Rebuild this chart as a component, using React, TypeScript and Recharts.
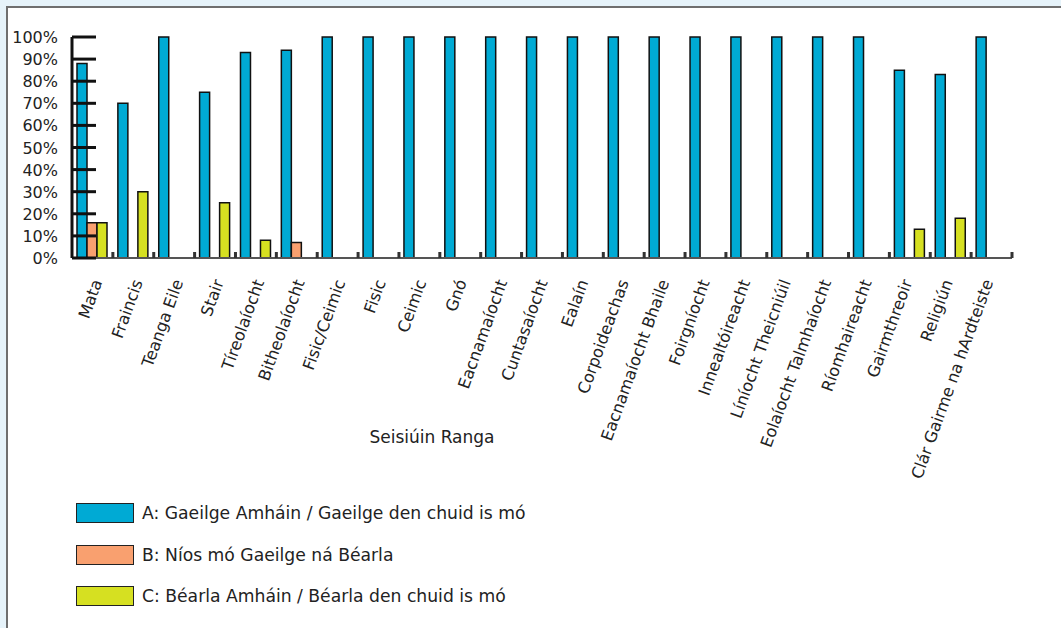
import React from 'react';
import { BarChart, Bar, XAxis, YAxis, Label } from 'recharts';

const categories = [
  'Mata', 'Fraincis', 'Teanga Eile', 'Stair', 'Tíreolaíocht', 'Bitheolaíocht',
  'Fisic/Ceimic', 'Fisic', 'Ceimic', 'Gnó', 'Eacnamaíocht', 'Cuntasaíocht',
  'Ealaín', 'Corpoideachas', 'Eacnamaíocht Bhaile', 'Foirgníocht',
  'Innealtóireacht', 'Líníocht Theicniúil', 'Eolaíocht Talmhaíocht',
  'Ríomhaireacht', 'Gairmthreoir', 'Religiún', 'Clár Gairme na hArdteiste',
];

const seriesA = [88, 70, 100, 75, 93, 94, 100, 100, 100, 100, 100, 100, 100, 100, 100, 100, 100, 100, 100, 100, 85, 83, 100];
const seriesB = [16, 0, 0, 0, 0, 7, 0, 0, 0, 0, 0, 0, 0, 0, 0, 0, 0, 0, 0, 0, 0, 0, 0];
const seriesC = [16, 30, 0, 25, 8, 0, 0, 0, 0, 0, 0, 0, 0, 0, 0, 0, 0, 0, 0, 0, 13, 18, 0];

const seriesNames = [
  'A: Gaeilge Amháin / Gaeilge den chuid is mó',
  'B: Níos mó Gaeilge ná Béarla',
  'C: Béarla Amháin / Béarla den chuid is mó',
];
const seriesColors = ['#00aad4', '#f9a06f', '#d6e021'];

const yTicks = [0, 10, 20, 30, 40, 50, 60, 70, 80, 90, 100];

const data = categories.map((name, i) => ({
  name,
  a: seriesA[i],
  b: seriesB[i],
  c: seriesC[i],
}));

const FONT = '"DejaVu Sans", sans-serif';
const CHART_W = 1061;
const CHART_H = 628;
const MARGIN = { top: 37, right: 49, bottom: 0, left: 0 };
const Y_W = 72;
const BAND = (CHART_W - MARGIN.left - MARGIN.right - Y_W) / categories.length;

const XTick = (props: any) => {
  const { x, y, payload, index } = props;
  const ax = x + 10 - index * 0.37;
  const ay = y + 24;
  const bx = x + BAND / 2;
  return (
    <g>
      <rect x={bx - 1.5} y={y - 6} width={3} height={6} fill="#333" />
      <text
        x={ax}
        y={ay}
        transform={`rotate(-70, ${ax}, ${ay})`}
        textAnchor="end"
        fontSize={16.2}
        fontFamily={FONT}
        fill="#222"
      >
        {payload.value}
      </text>
    </g>
  );
};

const YTick = (props: any) => {
  const { x, y, payload } = props;
  return (
    <g>
      <line x1={x + 14} x2={x + 38} y1={y} y2={y} stroke="#111" strokeWidth={3} />
      <text x={x} y={y} dy={6} textAnchor="end" fontSize={16} fontFamily={FONT} fill="#222">
        {payload.value}%
      </text>
    </g>
  );
};

const AxisTitle = () => (
  <text x={432} y={443} textAnchor="middle" fontSize={17} fontFamily={FONT} fill="#222">
    Seisiúin Ranga
  </text>
);

export default function App() {
  return (
    <div style={{ position: 'absolute', left: 0, top: 0, width: 1061, height: 628, background: '#e6f3fa', overflow: 'hidden' }}>
      <div style={{ position: 'absolute', left: 6, top: 6, width: 1100, height: 700, background: '#fff', borderTop: '2px solid #6f6f6f', borderLeft: '2px solid #6f6f6f' }} />
      <div style={{ position: 'absolute', left: 0, top: 0 }}>
        <BarChart
          width={CHART_W}
          height={CHART_H}
          data={data}
          margin={MARGIN}
          barCategoryGap={5}
          barGap={0}
        >
          <XAxis
            dataKey="name"
            interval={0}
            height={370}
            tickLine={false}
            tickSize={0}
            tickMargin={0}
            axisLine={{ stroke: '#555', strokeWidth: 2 }}
            tick={<XTick />}
          >
            <Label content={<AxisTitle />} />
          </XAxis>
          <YAxis
            domain={[0, 100]}
            ticks={yTicks}
            width={Y_W}
            tickLine={false}
            tickSize={0}
            tickMargin={14}
            axisLine={{ stroke: '#111', strokeWidth: 3 }}
            tick={<YTick />}
            interval={0}
          />
          <Bar dataKey="a" name={seriesNames[0]} fill={seriesColors[0]} stroke="#111" strokeWidth={1.5} isAnimationActive={false} />
          <Bar dataKey="b" name={seriesNames[1]} fill={seriesColors[1]} stroke="#111" strokeWidth={1.5} isAnimationActive={false} />
          <Bar dataKey="c" name={seriesNames[2]} fill={seriesColors[2]} stroke="#111" strokeWidth={1.5} isAnimationActive={false} />
        </BarChart>
      </div>
      {seriesNames.map((n, i) => (
        <div key={n} style={{ position: 'absolute', left: 76, top: 503 + i * 41.5, height: 20, display: 'flex', alignItems: 'center' }}>
          <div style={{ width: 56, height: 18, background: seriesColors[i], border: '1.5px solid #222' }} />
          <span style={{ marginLeft: 8, fontFamily: FONT, fontSize: 17.2, color: '#222', whiteSpace: 'nowrap' }}>{n}</span>
        </div>
      ))}
    </div>
  );
}
